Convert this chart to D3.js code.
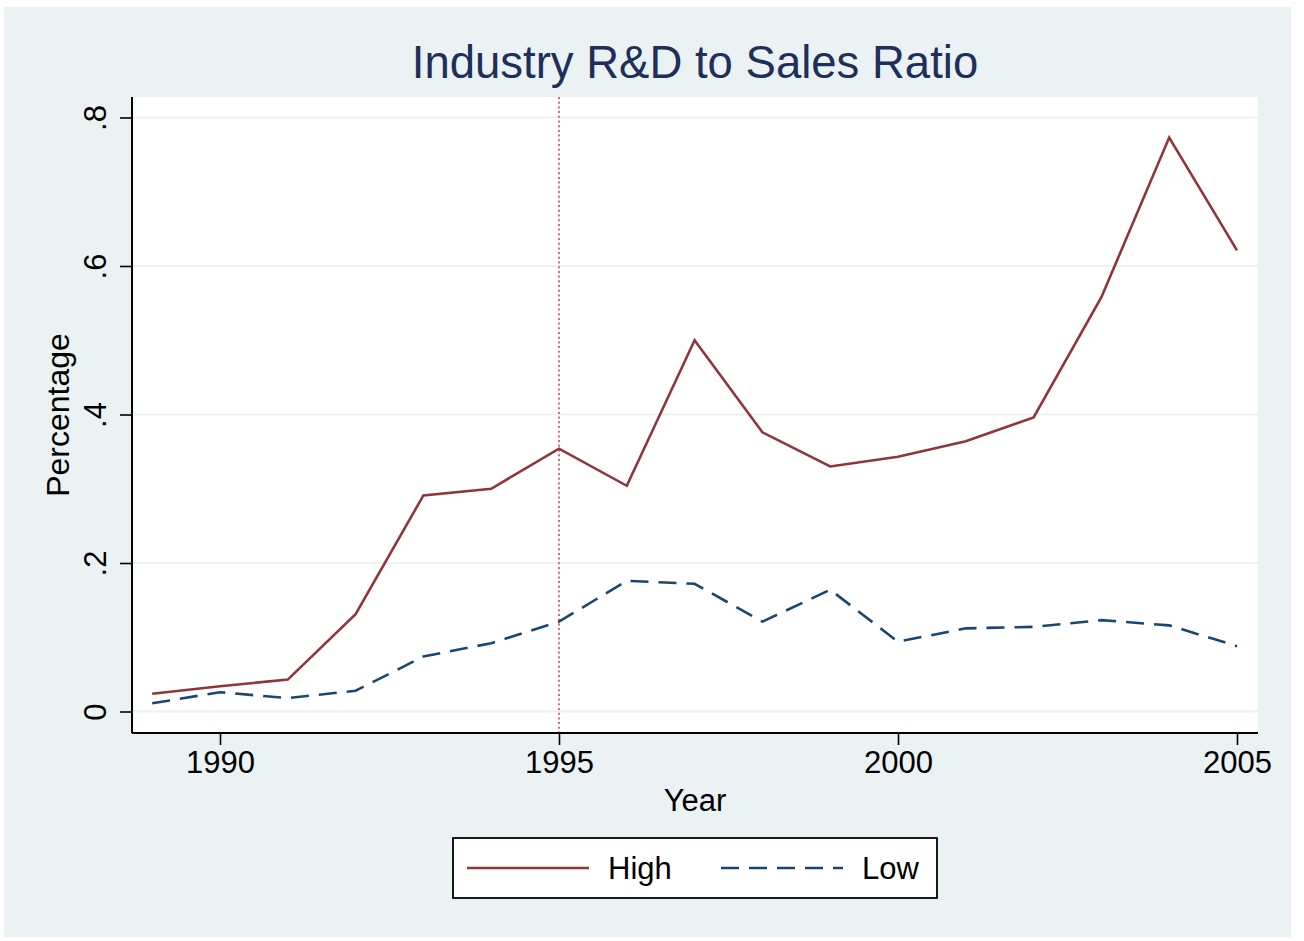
<!DOCTYPE html>
<html>
<head>
<meta charset="utf-8">
<script src="https://cdn.jsdelivr.net/npm/d3@7"></script>
<style>
body { margin: 0; background: #ffffff; }
text { font-family: "Liberation Sans", Arial, sans-serif; }
</style>
</head>
<body>
<div id="chart1"></div>
<script>
// Data
var years = [1989, 1990, 1991, 1992, 1993, 1994, 1995, 1996, 1997, 1998, 1999, 2000, 2001, 2002, 2003, 2004, 2005];
var highValues = [0.024, 0.034, 0.043, 0.131, 0.291, 0.300, 0.354, 0.304, 0.500, 0.376, 0.330, 0.343, 0.364, 0.396, 0.558, 0.773, 0.621];
var lowValues = [0.011, 0.026, 0.018, 0.028, 0.074, 0.092, 0.121, 0.176, 0.172, 0.121, 0.164, 0.094, 0.112, 0.114, 0.123, 0.116, 0.088];
var xTicks = [1990, 1995, 2000, 2005];
var yTicks = [0, 0.2, 0.4, 0.6, 0.8];
var yTickLabels = ["0", ".2", ".4", ".6", ".8"];
var markYear = 1995;

var cfg = {
	width : 1304,
	height : 941,
	plotLeft : 132,
	plotTop : 97,
	plotRight : 1258,
	plotBottom : 733,
	red : "#90353b",
	navy : "#1a476f",
	titleColor : "#1e2f5a",
	bg : "#eaf2f3"
};

var svg = d3.select("#chart1").append("svg")
	.attr("width", cfg.width)
	.attr("height", cfg.height);

// outer graph region
svg.append("rect")
	.attr("x", 4).attr("y", 7)
	.attr("width", 1287).attr("height", 930)
	.attr("fill", cfg.bg);

// plot region
svg.append("rect")
	.attr("x", cfg.plotLeft).attr("y", cfg.plotTop)
	.attr("width", cfg.plotRight - cfg.plotLeft)
	.attr("height", cfg.plotBottom - cfg.plotTop)
	.attr("fill", "#ffffff");

var x = d3.scaleLinear().domain([1990, 2005]).range([220, 1237]);
var y = d3.scaleLinear().domain([0, 0.8]).range([711.5, 117.5]);

// grid lines
svg.append("g").selectAll("line")
	.data(yTicks)
	.enter().append("line")
	.attr("x1", cfg.plotLeft)
	.attr("x2", cfg.plotRight)
	.attr("y1", function(d){return y(d);})
	.attr("y2", function(d){return y(d);})
	.attr("stroke", cfg.bg)
	.attr("stroke-width", 2.2);

// vertical reference line
svg.append("line")
	.attr("x1", x(markYear)).attr("x2", x(markYear))
	.attr("y1", cfg.plotTop).attr("y2", cfg.plotBottom)
	.attr("stroke", "#d8305c")
	.attr("stroke-width", 1.5)
	.attr("stroke-dasharray", "2,2.7");

// axes
var yAxis = d3.axisLeft(y)
	.tickValues(yTicks)
	.tickFormat(function(d,i){return yTickLabels[i];})
	.tickSize(12)
	.tickPadding(14);
var gy = svg.append("g")
	.attr("transform", "translate(" + cfg.plotLeft + ",0)")
	.call(yAxis);
gy.select(".domain").remove();
gy.selectAll(".tick line").attr("stroke", "#000").attr("stroke-width", 1.6);
gy.selectAll(".tick text")
	.attr("font-size", 31)
	.attr("fill", "#000")
	.attr("text-anchor", "middle")
	.attr("dy", null)
	.attr("x", null)
	.attr("transform", "translate(-26,0) rotate(-90)");
gy.append("line")
	.attr("x1", 0).attr("x2", 0)
	.attr("y1", cfg.plotTop).attr("y2", cfg.plotBottom)
	.attr("stroke", "#000").attr("stroke-width", 2);

var xAxis = d3.axisBottom(x)
	.tickValues(xTicks)
	.tickFormat(d3.format("d"))
	.tickSize(12)
	.tickPadding(6);
var gx = svg.append("g")
	.attr("transform", "translate(0," + cfg.plotBottom + ")")
	.call(xAxis);
gx.select(".domain").remove();
gx.selectAll(".tick line").attr("stroke", "#000").attr("stroke-width", 1.6);
gx.selectAll(".tick text")
	.attr("font-size", 31)
	.attr("fill", "#000");
gx.append("line")
	.attr("x1", cfg.plotLeft).attr("x2", cfg.plotRight)
	.attr("y1", 0).attr("y2", 0)
	.attr("stroke", "#000").attr("stroke-width", 2);

// series lines
var series = [
	{name : "High", values : highValues, color : cfg.red, dash : null},
	{name : "Low", values : lowValues, color : cfg.navy, dash : "18,10"}
];
var line = d3.line()
	.x(function(d){return x(d[0]);})
	.y(function(d){return y(d[1]);});

svg.append("g").selectAll("path")
	.data(series)
	.enter().append("path")
	.attr("d", function(s){return line(years.map(function(yr,i){return [yr, s.values[i]];}));})
	.attr("fill", "none")
	.attr("stroke", function(s){return s.color;})
	.attr("stroke-width", 2.6)
	.attr("stroke-dasharray", function(s){return s.dash;});

// titles
svg.append("text")
	.attr("x", 695).attr("y", 78)
	.attr("text-anchor", "middle")
	.attr("font-size", 45.5)
	.attr("fill", cfg.titleColor)
	.text("Industry R&D to Sales Ratio");

svg.append("text")
	.attr("x", 695).attr("y", 811)
	.attr("text-anchor", "middle")
	.attr("font-size", 31)
	.attr("fill", "#000")
	.text("Year");

svg.append("text")
	.attr("transform", "translate(69,415) rotate(-90)")
	.attr("text-anchor", "middle")
	.attr("font-size", 32)
	.attr("fill", "#000")
	.text("Percentage");

// legend
var legend = svg.append("g");
legend.append("rect")
	.attr("x", 453).attr("y", 838)
	.attr("width", 484).attr("height", 60)
	.attr("fill", "#fff")
	.attr("stroke", "#000")
	.attr("stroke-width", 1.8);
var legX = [467, 721];
var items = legend.selectAll("g.item")
	.data(series)
	.enter().append("g")
	.attr("class", "item")
	.attr("transform", function(d,i){return "translate(" + legX[i] + ",868)";});
items.append("line")
	.attr("x1", 0).attr("x2", 122)
	.attr("y1", 0).attr("y2", 0)
	.attr("stroke", function(d){return d.color;})
	.attr("stroke-width", 2.6)
	.attr("stroke-dasharray", function(d){return d.dash;});
items.append("text")
	.attr("x", 141).attr("y", 11)
	.attr("font-size", 31)
	.attr("fill", "#000")
	.text(function(d){return d.name;});
</script>
</body>
</html>
